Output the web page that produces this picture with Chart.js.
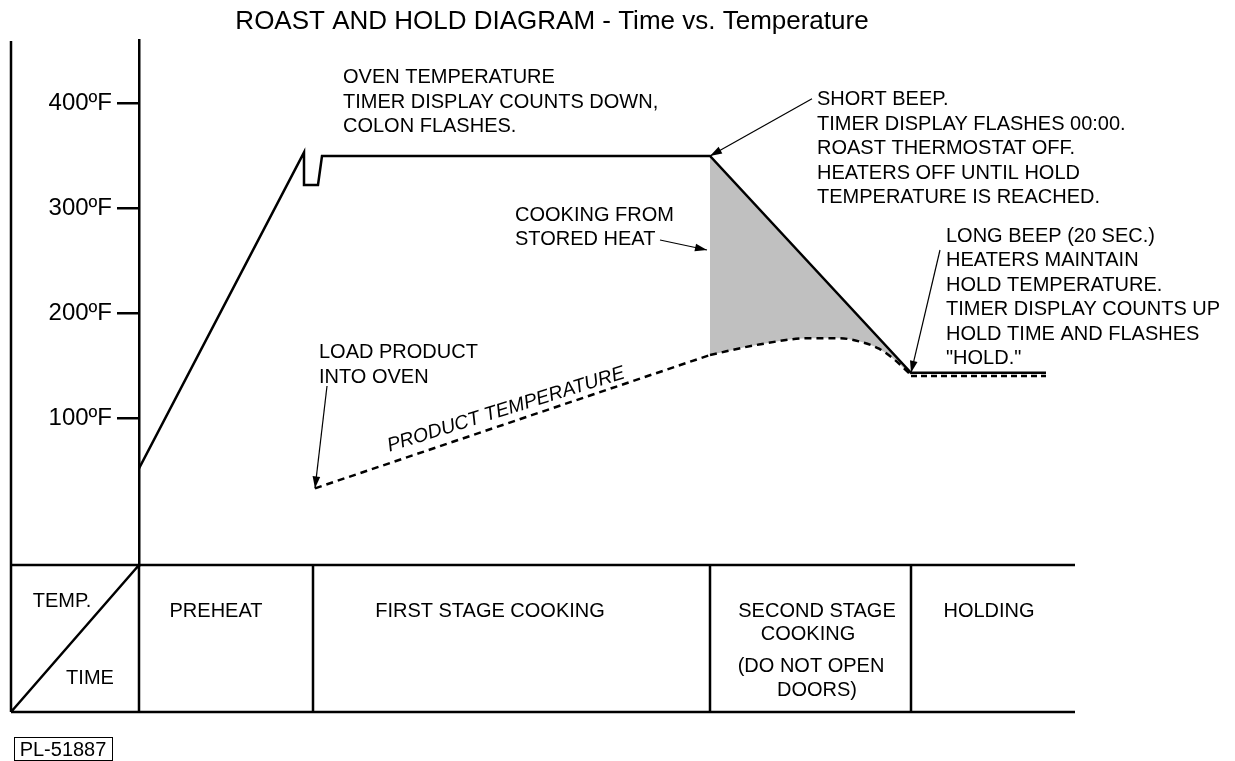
<!DOCTYPE html>
<html>
<head>
<meta charset="utf-8">
<title>Roast and Hold Diagram</title>
<script src="https://cdn.jsdelivr.net/npm/chart.js@4.4.1/dist/chart.umd.min.js"></script>
<style>
  html, body { margin: 0; padding: 0; background: #fff; }
  #wrap { width: 1235px; height: 761px; }
</style>
</head>
<body>
<div id="wrap"><canvas id="roastChart" width="1235" height="761"></canvas></div>
<script>
// time is in arbitrary units, 0 = start of preheat
var ovenTime = [0, 16.5, 16.5, 17.9, 18.3, 57.1, 77.2, 90.7];
var ovenTemp = [52, 353, 322, 322, 349.5, 349.5, 143, 143];

var productRiseTime = [17.6, 57.1];
var productRiseTemp = [33, 160];
var productCurveTime = [57.1, 62, 67, 70, 72, 74, 75.5, 77.2];
var productCurveTemp = [160, 170, 176, 176, 173, 166, 156, 141];
var productHoldTime = [77.2, 90.7];
var productHoldTemp = [140, 140];

var yTicks = [100, 200, 300, 400];
var yTickLabels = ['100ºF', '200ºF', '300ºF', '400ºF'];

var phaseStart = [0, 17.4, 57.1, 77.2];
var phaseEnd = 93.6;

var FONT = '"Liberation Sans", Arial, Helvetica, sans-serif';

function pts(xs, ys) {
    var out = [];
    for (var i = 0; i < xs.length; i++) {
        out.push({x: xs[i], y: ys[i]});
    }
    return out;
}

// notes are anchored in (time, temp) units
var notes = [
    {at: [20.4, 424], lines: ['OVEN TEMPERATURE', 'TIMER DISPLAY COUNTS DOWN,', 'COLON FLASHES.']},
    {at: [67.8, 403], lines: ['SHORT BEEP.', 'TIMER DISPLAY FLASHES 00:00.', 'ROAST THERMOSTAT OFF.', 'HEATERS OFF UNTIL HOLD', 'TEMPERATURE IS REACHED.'],
        from: [67.3, 404], to: [ovenTime[5], ovenTemp[5]]},
    {at: [37.6, 293], lines: ['COOKING FROM', 'STORED HEAT'],
        from: [52.1, 269.5], to: [56.8, 260]},
    {at: [80.7, 273], lines: ['LONG BEEP (20 SEC.)', 'HEATERS MAINTAIN', 'HOLD TEMPERATURE.', 'TIMER DISPLAY COUNTS UP', 'HOLD TIME AND FLASHES', '"HOLD."'],
        from: [80.1, 260], to: [ovenTime[6], ovenTemp[6]]},
    {at: [18.0, 162], lines: ['LOAD PRODUCT', 'INTO OVEN'],
        from: [18.8, 130.5], to: [productRiseTime[0], productRiseTemp[0]]}
];

function arrow(ctx, x1, y1, x2, y2, head) {
    ctx.beginPath();
    ctx.moveTo(x1, y1);
    ctx.lineTo(x2, y2);
    ctx.stroke();
    var a = Math.atan2(y2 - y1, x2 - x1);
    var c = Math.cos(a), s = Math.sin(a);
    ctx.beginPath();
    ctx.moveTo(x2, y2);
    ctx.lineTo(x2 - head * c + head * 0.32 * s, y2 - head * s - head * 0.32 * c);
    ctx.lineTo(x2 - head * c - head * 0.32 * s, y2 - head * s + head * 0.32 * c);
    ctx.closePath();
    ctx.fill();
}

var decorations = {
    id: 'decorations',
    afterDraw: function(chart) {
        var ctx = chart.ctx;
        var xs = chart.scales.x, ys = chart.scales.y;
        var area = chart.chartArea;
        ctx.save();
        ctx.fillStyle = '#000';
        ctx.strokeStyle = '#000';

        // title
        ctx.font = '26px ' + FONT;
        ctx.textAlign = 'center';
        ctx.textBaseline = 'middle';
        ctx.fillText('ROAST AND HOLD DIAGRAM - Time vs. Temperature', 552, 22);

        // notes and arrows
        ctx.font = '20px ' + FONT;
        ctx.textAlign = 'left';
        notes.forEach(function(n) {
            var px = xs.getPixelForValue(n.at[0]);
            var py = ys.getPixelForValue(n.at[1]);
            n.lines.forEach(function(line, i) {
                ctx.fillText(line, px, py + i * 24.5);
            });
            if (n.from) {
                ctx.lineWidth = 1.2;
                arrow(ctx, xs.getPixelForValue(n.from[0]), ys.getPixelForValue(n.from[1]),
                    xs.getPixelForValue(n.to[0]), ys.getPixelForValue(n.to[1]), 12);
            }
        });

        // label along the product line
        var x1 = xs.getPixelForValue(productRiseTime[0]), y1 = ys.getPixelForValue(productRiseTemp[0]);
        var x2 = xs.getPixelForValue(productRiseTime[1]), y2 = ys.getPixelForValue(productRiseTemp[1]);
        ctx.save();
        ctx.translate(xs.getPixelForValue(36.7), ys.getPixelForValue(108));
        ctx.rotate(Math.atan2(y2 - y1, x2 - x1) * 0.93);
        ctx.font = 'italic 19.5px ' + FONT;
        ctx.textAlign = 'center';
        ctx.fillText('PRODUCT TEMPERATURE', 0, 0);
        ctx.restore();

        // phase table under the time axis
        var top = area.bottom, bottom = 712, left = 11, right = area.right;
        ctx.lineWidth = 2.5;
        ctx.beginPath();
        ctx.moveTo(left, 41); ctx.lineTo(left, bottom);
        ctx.moveTo(left, top); ctx.lineTo(right, top);
        ctx.moveTo(left, bottom); ctx.lineTo(right, bottom);
        phaseStart.forEach(function(t) {
            var px = xs.getPixelForValue(t);
            ctx.moveTo(px, top); ctx.lineTo(px, bottom);
        });
        ctx.moveTo(left, bottom); ctx.lineTo(area.left, top);
        ctx.stroke();

        ctx.font = '20px ' + FONT;
        ctx.textAlign = 'center';
        ctx.fillText('TEMP.', 62, 601);
        ctx.fillText('TIME', 90, 678);
        ctx.fillText('PREHEAT', 216, 611);
        ctx.fillText('FIRST STAGE COOKING', 490, 611);
        ctx.fillText('SECOND STAGE', 817, 611);
        ctx.fillText('COOKING', 808, 634);
        ctx.fillText('(DO NOT OPEN', 811, 666);
        ctx.fillText('DOORS)', 817, 690);
        ctx.fillText('HOLDING', 989, 611);

        // drawing number
        ctx.lineWidth = 1;
        ctx.strokeRect(14.5, 737.5, 98, 23);
        ctx.fillText('PL-51887', 63, 750);
        ctx.restore();
    }
};

var ctx = document.getElementById('roastChart').getContext('2d');
var roastChart = new Chart(ctx, {
    type: 'line',
    data: {
        datasets: [{
            label: 'Oven temperature',
            data: pts(ovenTime, ovenTemp),
            borderColor: '#000',
            borderWidth: 2.5,
            pointRadius: 0,
            fill: false,
            order: 1
        }, {
            label: 'Stored heat',
            data: pts(ovenTime.slice(5, 7), ovenTemp.slice(5, 7)),
            borderWidth: 0,
            borderColor: 'rgba(0,0,0,0)',
            backgroundColor: '#c0c0c0',
            pointRadius: 0,
            fill: 3,
            order: 5
        }, {
            label: 'Product temperature',
            data: pts(productRiseTime, productRiseTemp),
            borderColor: '#000',
            borderWidth: 2.5,
            borderDash: [7, 5],
            pointRadius: 0,
            fill: false,
            order: 1
        }, {
            label: 'Product curve',
            data: pts(productCurveTime, productCurveTemp),
            borderColor: '#000',
            borderWidth: 2.5,
            borderDash: [7, 5],
            cubicInterpolationMode: 'monotone',
            pointRadius: 0,
            fill: false,
            order: 1
        }, {
            label: 'Product hold',
            data: pts(productHoldTime, productHoldTemp),
            borderColor: '#000',
            borderWidth: 2.5,
            borderDash: [6, 4],
            pointRadius: 0,
            fill: false,
            order: 1
        }]
    },
    options: {
        responsive: false,
        animation: false,
        layout: {
            padding: {left: 0, top: 40, right: 160, bottom: 196}
        },
        plugins: {
            legend: {display: false},
            tooltip: {enabled: false}
        },
        scales: {
            x: {
                type: 'linear',
                min: 0,
                max: phaseEnd,
                display: false
            },
            y: {
                type: 'linear',
                min: -40,
                max: 460,
                afterBuildTicks: function(scale) {
                    scale.ticks = yTicks.map(function(v) { return {value: v}; });
                },
                afterFit: function(scale) {
                    scale.width = 139;
                },
                grid: {
                    drawOnChartArea: false,
                    drawTicks: true,
                    tickLength: 22,
                    color: '#000',
                    lineWidth: 2.5
                },
                border: {color: '#000', width: 2.5},
                ticks: {
                    color: '#000',
                    padding: 5,
                    font: {size: 24, family: FONT},
                    callback: function(value) {
                        return yTickLabels[yTicks.indexOf(value)];
                    }
                }
            }
        }
    },
    plugins: [decorations]
});
</script>
</body>
</html>
